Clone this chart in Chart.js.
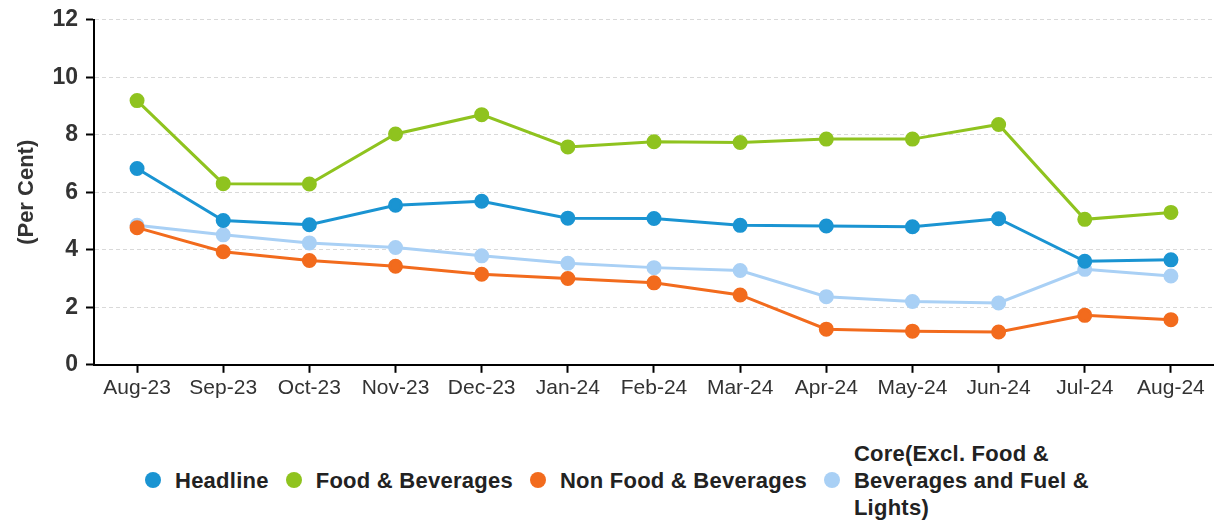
<!DOCTYPE html>
<html>
<head>
<meta charset="utf-8">
<script src="https://cdn.jsdelivr.net/npm/chart.js@4"></script>
<style>
  body { margin: 0; background: #fff; font-family: "Liberation Sans", Arial, sans-serif; }
  #wrap { width: 1214px; height: 520px; position: relative; overflow: hidden; }
  #chart { display: block; margin-top: -2px; }
  #legend {
    position: absolute; left: 0; top: 440px; width: 1214px; height: 80px;
    display: flex; justify-content: flex-start; align-items: center;
    padding-left: 145px; box-sizing: border-box;
    font-weight: bold; font-size: 22px; color: #222; letter-spacing: 0.25px;
  }
  .item { display: flex; align-items: center; margin-right: 17px; }
  .dot { width: 16px; height: 16px; border-radius: 50%; margin-right: 14px; flex: none; }
  .txt { line-height: 27px; }
</style>
</head>
<body>
<div id="wrap">
  <canvas id="chart" width="1223" height="406"></canvas>
  <div id="legend"></div>
</div>
<script>
// Mesi
const months = ["Aug-23", "Sep-23", "Oct-23", "Nov-23", "Dec-23", "Jan-24", "Feb-24",
                "Mar-24", "Apr-24", "May-24", "Jun-24", "Jul-24", "Aug-24"];

// Serie (per cent)
const headline = [6.83, 5.02, 4.87, 5.55, 5.69, 5.10, 5.09, 4.85, 4.83, 4.80, 5.08, 3.60, 3.65];
const foodBev = [9.19, 6.30, 6.29, 8.03, 8.70, 7.58, 7.76, 7.73, 7.85, 7.85, 8.36, 5.06, 5.30];
const nonFood = [4.77, 3.93, 3.63, 3.43, 3.15, 3.00, 2.85, 2.43, 1.24, 1.17, 1.14, 1.72, 1.57];
const core = [4.85, 4.52, 4.24, 4.08, 3.79, 3.53, 3.38, 3.28, 2.37, 2.20, 2.15, 3.32, 3.09];

const seriesNames = ["Headline", "Food & Beverages", "Non Food & Beverages",
                     "Core(Excl. Food &\nBeverages and Fuel &\nLights)"];
const colors = ["#1a94d2", "#8fc31f", "#f26b1d", "#a9d0f5"];

const allData = [headline, foodBev, nonFood, core];

const datasets = allData.map((d, i) => ({
    label: seriesNames[i].replace(/\n/g, " "),
    data: d,
    borderColor: colors[i],
    backgroundColor: colors[i],
    pointBackgroundColor: colors[i],
    pointBorderColor: colors[i],
    borderWidth: 3,
    pointRadius: 6,
    pointHoverRadius: 6,
    tension: 0,
    fill: false
}));
// core disegnato sotto gli altri
datasets[3].order = 4;

const ctx = document.getElementById("chart").getContext("2d");
new Chart(ctx, {
    type: "line",
    data: { labels: months, datasets: datasets },
    options: {
        responsive: false,
        animation: false,
        devicePixelRatio: 1,
        layout: { padding: { top: 6, left: 10, right: 0, bottom: 0 } },
        plugins: {
            legend: { display: false },
            tooltip: { enabled: false }
        },
        scales: {
            x: {
                offset: true,
                grid: { drawOnChartArea: false, offset: false, tickLength: 8, tickColor: "#000", tickWidth: 2 },
                border: { color: "#000", width: 2 },
                ticks: { color: "#333", font: { family: "Liberation Sans", size: 21 }, padding: 3, maxRotation: 0 }
            },
            y: {
                min: 0, max: 12,
                ticks: { stepSize: 2, color: "#333", font: { family: "Liberation Sans", size: 23, weight: "bold" }, padding: 8 },
                grid: { color: "#d9d9d9", tickLength: 8, tickColor: "#000", tickWidth: 2, tickBorderDash: [] },
                border: { color: "#000", width: 2, dash: [4, 3] },
                title: { display: true, text: "(Per Cent)", color: "#333",
                         font: { family: "Liberation Sans", size: 22, weight: "bold" }, padding: 4 }
            }
        }
    }
});

// legenda HTML
const legend = document.getElementById("legend");
seriesNames.forEach((name, i) => {
    const item = document.createElement("div");
    item.className = "item";
    const dot = document.createElement("span");
    dot.className = "dot";
    dot.style.background = colors[i];
    const txt = document.createElement("span");
    txt.className = "txt";
    name.split("\n").forEach((line, j) => {
        if (j > 0) txt.appendChild(document.createElement("br"));
        txt.appendChild(document.createTextNode(line));
    });
    item.appendChild(dot);
    item.appendChild(txt);
    legend.appendChild(item);
});
</script>
</body>
</html>
